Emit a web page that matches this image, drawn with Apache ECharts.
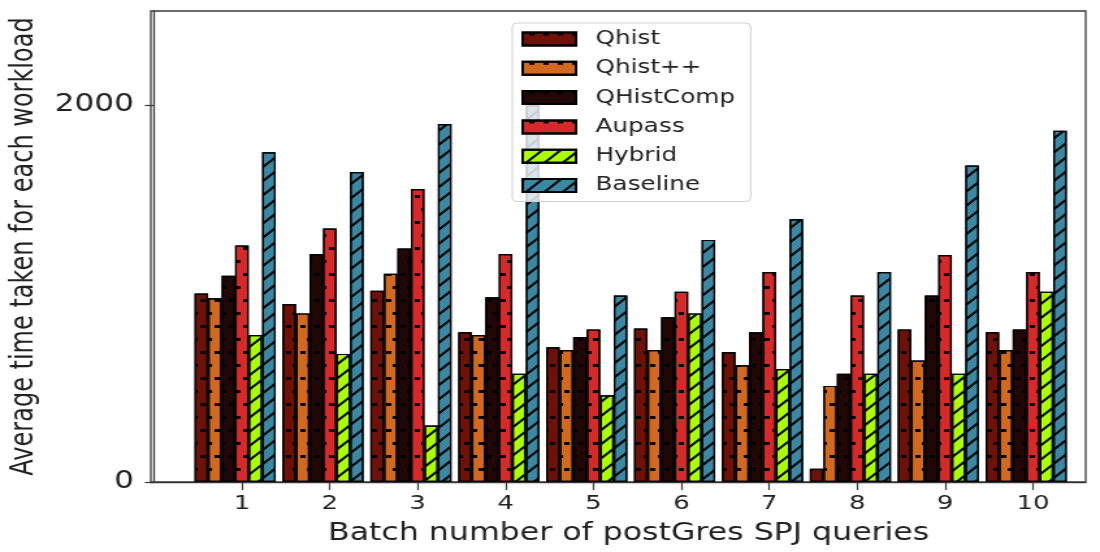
<!DOCTYPE html>
<html>
<head>
<meta charset="utf-8">
<title>Average time per workload</title>
<script src="https://cdn.jsdelivr.net/npm/echarts@6/dist/echarts.min.js"></script>
<style>
    html, body { margin: 0; padding: 0; background: #fff; overflow: hidden; }
    #wrap { width: 1100px; height: 552px; overflow: hidden; }
    /* the reference figure is stretched sideways, so draw narrow and widen */
    #chart { width: 846px; height: 552px; transform: scaleX(1.3002); transform-origin: 0 0; }
</style>
</head>
<body>
<div id="wrap"><div id="chart"></div></div>
<script>
// batch numbers on the x axis
var batches = [1, 2, 3, 4, 5, 6, 7, 8, 9, 10];
var yTicks = [0, 2000];

// average time per workload, one array per method
var qhist     = [1000, 945, 1015, 795, 715, 815, 690, 70, 810, 795];
var qhistPP   = [975, 895, 1105, 780, 700, 700, 620, 510, 645, 700];
var qhistComp = [1095, 1210, 1240, 980, 770, 875, 795, 575, 990, 810];
var aupass    = [1255, 1345, 1555, 1210, 810, 1010, 1115, 990, 1205, 1115];
var hybrid    = [780, 680, 300, 575, 460, 895, 600, 575, 575, 1010];
var baseline  = [1750, 1645, 1900, 2000, 990, 1285, 1395, 1115, 1680, 1865];

var names = ['Qhist', 'Qhist++', 'QHistComp', 'Aupass', 'Hybrid', 'Baseline'];

var FONT = 'DejaVu Sans';

// hatch '.' -> small black dots, staggered rows
var dots = {
    symbol: 'rect',
    symbolSize: 1,
    color: '#000',
    dashArrayX: [[3.5, 6.5], [0, 5, 3.5, 1.5]],
    dashArrayY: [3, 10],
    rotation: 0
};
// hatch '//' -> diagonal lines
var hatch = {
    symbol: 'rect',
    symbolSize: 1,
    color: '#000',
    dashArrayX: [1, 0],
    dashArrayY: [1.6, 7.6],
    rotation: -Math.PI / 4
};

function makeBar(name, values, color, decal) {
    return {
        name: name,
        type: 'bar',
        barWidth: 10.4,
        barGap: '0%',
        data: batches.map(function (b, i) { return [b, values[i]]; }),
        itemStyle: {
            color: color,
            borderColor: '#000',
            borderWidth: 1.2,
            decal: decal
        },
        emphasis: { disabled: true }
    };
}

var myChart = echarts.init(document.getElementById('chart'), null, { renderer: 'canvas' });

var option = {
    animation: false,
    backgroundColor: '#fff',
    grid: {
        left: 116,
        right: 11,
        top: 11,
        bottom: 70,
        outerBoundsMode: 'none',
        containLabel: false,
        show: true,
        borderColor: '#3a3a3a',
        borderWidth: 1.3,
        backgroundColor: 'transparent'
    },
    legend: {
        data: names,
        orient: 'vertical',
        left: 394,
        top: 23,
        icon: 'rect',
        itemWidth: 41,
        itemHeight: 13,
        itemGap: 9.3,
        padding: [6, 12, 6, 7],
        backgroundColor: 'rgba(255,255,255,0.8)',
        borderColor: '#d0d0d0',
        borderWidth: 1,
        borderRadius: 4,
        textStyle: {
            fontFamily: FONT,
            fontSize: 19,
            lineHeight: 20,
            color: '#222',
            padding: [0, 0, 0, 10]
        }
    },
    xAxis: {
        type: 'value',
        min: -0.036,
        max: 10.6,
        name: 'Batch number of postGres SPJ queries',
        nameLocation: 'middle',
        nameGap: 40,
        nameTextStyle: {
            fontFamily: FONT,
            fontSize: 24.3,
            color: '#222',
            padding: [0, 0, 0, 16]
        },
        axisLine: { show: true, lineStyle: { color: '#3a3a3a', width: 1.3 } },
        axisTick: { show: true, length: 8, customValues: batches, lineStyle: { color: '#3a3a3a', width: 1.2 } },
        axisLabel: {
            customValues: batches,
            fontFamily: FONT,
            fontSize: 20,
            color: '#222',
            margin: 12
        },
        splitLine: { show: false }
    },
    yAxis: {
        type: 'value',
        min: 0,
        max: 2500,
        name: 'Average time taken for each workload',
        nameLocation: 'middle',
        nameGap: 81,
        nameRotate: 90,
        nameTextStyle: {
            fontFamily: FONT,
            fontSize: 24,
            color: '#222'
        },
        axisLine: { show: true, lineStyle: { color: '#3a3a3a', width: 1.3 } },
        axisTick: { show: true, length: 7, customValues: yTicks, lineStyle: { color: '#3a3a3a', width: 1.2 } },
        axisLabel: {
            customValues: yTicks,
            formatter: function (v) { return String(v); },
            fontFamily: FONT,
            fontSize: 24,
            color: '#222',
            margin: 13
        },
        splitLine: { show: false }
    },
    series: [
        makeBar('Qhist', qhist, '#6e1109', dots),
        makeBar('Qhist++', qhistPP, '#d2691e', dots),
        makeBar('QHistComp', qhistComp, '#210807', dots),
        makeBar('Aupass', aupass, '#d62a2a', dots),
        makeBar('Hybrid', hybrid, '#aaff00', hatch),
        makeBar('Baseline', baseline, '#3a88a4', hatch),
        // empty slot so that each tick falls on the Aupass bar
        {
            name: '_pad',
            type: 'bar',
            barWidth: 10.4,
            barGap: '0%',
            data: [],
            silent: true
        }
    ]
};

if (option && typeof option === "object") {
    myChart.setOption(option, true);
}
</script>
</body>
</html>
